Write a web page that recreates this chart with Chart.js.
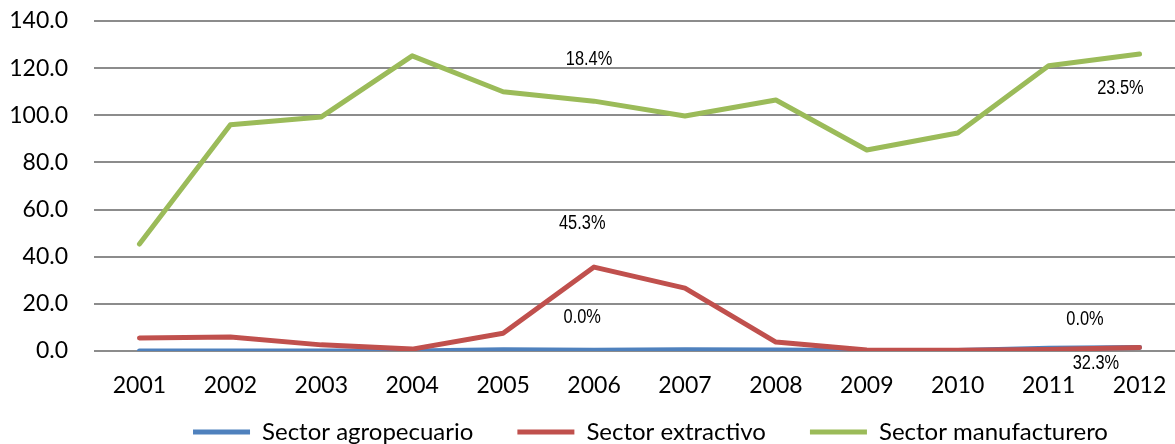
<!DOCTYPE html>
<html>
<head>
<meta charset="utf-8">
<script src="https://cdn.jsdelivr.net/npm/chart.js@4.4.1/dist/chart.umd.min.js"></script>
<style>
  html, body { margin: 0; padding: 0; background: #fff; overflow: hidden; }
  #wrap { width: 1175px; height: 444px; position: relative; overflow: hidden; }
  #c { position: absolute; left: 0; top: 0; }
</style>
</head>
<body>
<div id="wrap"><canvas id="c" width="1185" height="444"></canvas></div>
<script>
const years = ['2001','2002','2003','2004','2005','2006','2007','2008','2009','2010','2011','2012'];
const agropecuario = [0.0, 0.0, 0.0, 0.0, 0.5, 0.3, 0.5, 0.4, 0.1, 0.2, 1.2, 1.5];
const extractivo = [5.5, 5.9, 2.6, 0.8, 7.5, 35.6, 26.7, 3.8, 0.4, 0.3, 0.6, 1.5];
const manufacturero = [45.4, 96.0, 99.3, 125.2, 110.0, 106.0, 99.7, 106.5, 85.3, 92.5, 121.0, 126.0];
const yTicks = [0, 20, 40, 60, 80, 100, 120, 140];
// annotation texts, placed at (category index, value)
const noteTexts = ['18.4%', '45.3%', '0.0%', '23.5%', '0.0%', '32.3%'];
const noteIdx = [4.945, 4.87, 4.87, 10.79, 10.40, 10.52];
const noteVal = [123.5, 53.9, 14.4, 111.4, 13.2, -5.5];

const notesPlugin = {
  id: 'notes',
  afterLayout(chart) {
    // let the x tick labels extend below the (shortened) axis box without clipping
    const xs = chart.scales.x;
    xs.bottom = xs.top + 70;
    // nudge the legend a little to the right, as in the original
    chart.legend.left += 11;
    chart.legend.right += 11;
  },
  afterDatasetsDraw(chart) {
    const {ctx, scales: {x, y}} = chart;
    ctx.save();
    ctx.fillStyle = '#000';
    ctx.font = '20px "Liberation Sans", Arial, sans-serif';
    ctx.textAlign = 'center';
    ctx.textBaseline = 'middle';
    noteTexts.forEach((t, i) => {
      const px = x.getPixelForValue(noteIdx[i]);
      const py = y.getPixelForValue(noteVal[i]);
      ctx.save();
      ctx.translate(px, py);
      ctx.scale(0.82, 1);
      ctx.fillText(t, 0, 0);
      ctx.restore();
    });
    ctx.restore();
  }
};

const common = { borderWidth: 5, pointRadius: 0, pointHoverRadius: 0, tension: 0,
  borderJoinStyle: 'round', borderCapStyle: 'round', fill: false, pointStyle: 'line' };

new Chart(document.getElementById('c'), {
  type: 'line',
  data: {
    labels: years,
    datasets: [
      Object.assign({ label: 'Sector agropecuario', data: agropecuario, borderColor: '#4F81BD', backgroundColor: '#4F81BD', order: 3 }, common),
      Object.assign({ label: 'Sector extractivo', data: extractivo, borderColor: '#C0504D', backgroundColor: '#C0504D', order: 2 }, common),
      Object.assign({ label: 'Sector manufacturero', data: manufacturero, borderColor: '#9BBB59', backgroundColor: '#9BBB59', order: 1 }, common)
    ]
  },
  options: {
    responsive: false,
    animation: false,
    layout: { padding: { top: 21, right: 0, left: 0, bottom: -10 } },
    plugins: {
      tooltip: { enabled: false },
      legend: {
        position: 'bottom',
        fullSize: false,
        labels: {
          usePointStyle: true,
          pointStyle: 'line',
          pointStyleWidth: 57,
          boxHeight: 24,
          padding: 44,
          color: '#000',
          font: { family: 'Lato', size: 24 },
          sort: (a, b) => a.datasetIndex - b.datasetIndex
        }
      }
    },
    scales: {
      x: {
        type: 'category',
        offset: true,
        afterFit(s) { s.height = 25; s.paddingLeft = 0; s.paddingRight = 0; },
        grid: { display: false, drawTicks: false },
        border: { display: false },
        ticks: { color: '#000', padding: 21, font: { family: 'Lato', size: 23 }, maxRotation: 0 }
      },
      y: {
        min: 0, max: 140,
        afterBuildTicks(s) { s.ticks = yTicks.map(v => ({ value: v })); },
        afterFit(s) { s.width = 94; s.paddingTop = 0; s.paddingBottom = 0; },
        grid: { color: '#8c8c8c', lineWidth: 2, drawTicks: false },
        border: { display: false },
        ticks: { color: '#000', padding: 26, font: { family: 'Lato', size: 23 },
          callback: v => Number(v).toFixed(1) }
      }
    }
  },
  plugins: [notesPlugin]
});
</script>
</body>
</html>
